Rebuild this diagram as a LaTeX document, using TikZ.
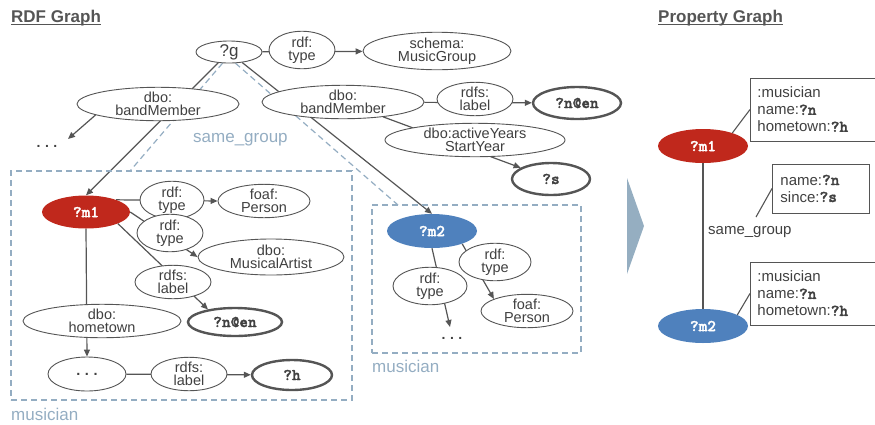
\documentclass[tikz,border=0pt]{standalone}
\usepackage{fontspec}
\setmainfont{Liberation Sans}
\newfontfamily\cbold[Extension=.otf, FakeBold=1.6, Scale=1.1]{lmmonolt10-bold}
\usetikzlibrary{shapes.geometric,arrows.meta}
\definecolor{ec}{HTML}{555555}
\definecolor{tc}{HTML}{404040}
\definecolor{dc}{HTML}{94ADC2}
\definecolor{redf}{HTML}{C0281C}
\definecolor{bluef}{HTML}{4F81BD}
\definecolor{chev}{HTML}{95AEC1}
\pgfdeclarelayer{bg}
\pgfsetlayers{bg,main}
\newcommand\cv[1]{{\cbold #1}}
\newcommand\mydots{\textbf{.\hspace{4.5pt}.\hspace{4.5pt}.}}
\begin{document}
\begin{tikzpicture}[x=1pt,y=-1pt,
  ell/.style={ellipse, draw=ec, line width=0.9pt, fill=white, inner sep=0pt, align=center, text=tc, font=\fontsize{14.5}{13}\selectfont},
  wh/.style 2 args={minimum width=#1pt, minimum height=#2pt},
  lit/.style={ell, line width=2.4pt, font=\fontsize{15}{14}\selectfont\cbold},
  var/.style={ellipse, draw=none, inner sep=0pt, text=white, font=\fontsize{15}{14}\selectfont\cbold},
  conn/.style={draw=ec, line width=1.2pt},
  arr/.style={conn, -{Triangle[length=7pt,width=6pt]}},
  sg/.style={draw=dc, line width=1.2pt, dash pattern=on 6pt off 4pt},
  dbox/.style={draw=dc, line width=1.2pt, dash pattern=on 6pt off 4pt, inner sep=0pt},
  bluelbl/.style={text=dc, inner sep=0pt, font=\fontsize{17}{17}\selectfont},
  title/.style={text=ec, inner sep=0pt, anchor=base west, font=\bfseries\fontsize{17}{17}\selectfont},
  pgbox/.style={draw=ec, line width=0.9pt, align=left, text=tc, anchor=west, font=\fontsize{15}{17}\selectfont},
  pgline/.style={draw=ec, line width=1.5pt},
  pgthin/.style={draw=ec, line width=1.1pt},
  dotlbl/.style={text=tc, inner sep=0pt, font=\fontsize{14}{14}\selectfont}
]
\useasboundingbox (0,0) rectangle (875,424);

% titles
\node[title] (t1) at (11,22) {RDF Graph};
\draw[ec, line width=1.2pt] ([yshift=-2.5pt]t1.base west) -- ([yshift=-2.5pt]t1.base east);
\node[title] (t2) at (658,22) {Property Graph};
\draw[ec, line width=1.2pt] ([yshift=-2.5pt]t2.base west) -- ([yshift=-2.5pt]t2.base east);

% dashed boxes
\node[dbox, minimum width=341pt, minimum height=229pt] (box1) at (181.5,285.5) {};
\node[dbox, minimum width=209pt, minimum height=148pt] (box2) at (476.5,279) {};
\node[bluelbl, anchor=base west] (mus1) at (11,420) {musician};
\node[bluelbl, anchor=base west] (mus2) at (372,372) {musician};
\node[bluelbl, anchor=base west] (sgl) at (193,142) {same\_group};

% top part
\node[ell, wh={66}{22}, font=\fontsize{17}{17}\selectfont] (g) at (229,52) {?g};
\node[ell, wh={66}{34}] (rt0) at (302,50) {rdf:\\type};
\node[ell, wh={148}{34}] (mg) at (437,51) {schema:\\MusicGroup};
\node[ell, wh={162}{30}] (bm1) at (158,104) {dbo:\\bandMember};
\node[ell, wh={162}{32}] (bm2) at (343,102) {dbo:\\bandMember};
\node[ell, wh={76}{32}] (rl0) at (475,99) {rdfs:\\label};
\node[lit, wh={88}{32}] (n0) at (577,103) {?n@en};
\node[ell, wh={180}{32}] (ay) at (475,140) {dbo:activeYears\\StartYear};
\node[lit, wh={78}{32}] (s) at (551,179) {?s};
\node[dotlbl] (dots1) at (47,146) {\mydots};
\coordinate (dotsend) at (68,139);
\coordinate (sgL) at (130,171);
\coordinate (sgR) at (398,205);

% left box
\node[var, fill=redf, wh={88}{33}] (m1) at (86,212) {?m1};
\node[ell, wh={64}{32}] (rt1) at (172,200) {rdf:\\type};
\node[ell, wh={92}{30}] (fp1) at (264,201) {foaf:\\Person};
\node[ell, wh={66}{32}] (rt2) at (170,233) {rdf:\\type};
\node[ell, wh={146}{36}] (ma) at (271,257) {dbo:\\MusicalArtist};
\node[ell, wh={76}{30}] (rl1) at (173,282) {rdfs:\\label};
\node[lit, wh={94}{28}] (n1) at (235,322) {?n@en};
\node[ell, wh={158}{30}] (ht) at (102,321) {dbo:\\hometown};
\node[ell, wh={78}{34}] (de) at (87,374) {\mydots};
\node[ell, wh={76}{30}] (rl2) at (189,374) {rdfs:\\label};
\node[lit, wh={80}{30}] (h) at (292,375) {?h};

% right box
\node[var, fill=bluef, wh={90}{34}] (m2) at (432,231) {?m2};
\node[ell, wh={72}{32}] (rt3) at (495,262) {rdf:\\type};
\node[ell, wh={74}{32}] (rt4) at (430,286) {rdf:\\type};
\node[ell, wh={92}{32}] (fp2) at (527,311) {foaf:\\Person};
\node[dotlbl] (dots2) at (452,338) {\mydots};
\coordinate (d2end) at (450,327);

\begin{pgfonlayer}{bg}
\draw[arr] (g) -- (mg);
\draw[arr] (g) -- (m1.north);
\draw[arr] (g) -- (m2.north);
\draw[arr] (bm1.190) -- (dotsend);
\draw[arr] (bm2) -- (n0);
\draw[arr] (bm2) -- (s);
\draw[sg] (g.240) -- (sgL);
\draw[sg] (g.300) -- (sgR);
\draw[arr] (m1.22) -- (fp1.west);
\draw[arr] (m1.east) -- (ma.west);
\draw[arr] (m1.-20) -- (n1.155);
\draw[arr] (m1.south) -- (de.north);
\draw[arr] (de) -- (h);
\draw[arr] (m2.-23) -- (fp2.160);
\draw[arr] (m2.south) -- (d2end);
\end{pgfonlayer}

% transition arrow
\fill[chev] (627,178) -- (644,226) -- (627,274) -- cycle;

% property graph
\node[var, fill=redf, wh={90}{34}] (p1) at (703,146) {?m1};
\node[var, fill=bluef, wh={90}{34}] (p2) at (703,326) {?m2};
\draw[pgline] (p1) -- (p2);
\node[text=tc, anchor=west, inner sep=0pt, font=\fontsize{15}{15}\selectfont] (pgsg) at (708,232) {same\_group};
\node[pgbox, inner xsep=7pt, text width=136pt, minimum height=63pt] (pb1) at (750,109.5) {:musician\\name:\cv{?n}\\hometown:\cv{?h}};
\node[pgbox, inner xsep=8pt, text width=81pt, minimum height=49pt] (pb2) at (772,188.5) {name:\cv{?n}\\since:\cv{?s}};
\node[pgbox, inner xsep=7pt, text width=136pt, minimum height=63pt] (pb3) at (750,293.5) {:musician\\name:\cv{?n}\\hometown:\cv{?h}};
\coordinate (c2) at (756,217);
\draw[pgthin] (p1.24) -- (pb1.west);
\draw[pgthin] (c2) -- (pb2.west);
\draw[pgthin] (p2.18) -- (pb3.west);
\end{tikzpicture}
\end{document}
